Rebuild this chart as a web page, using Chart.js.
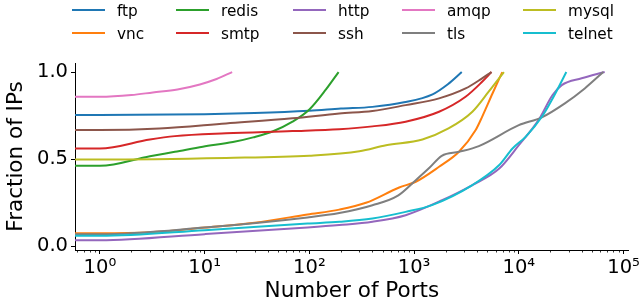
<!DOCTYPE html>
<html>
<head>
<meta charset="utf-8">
<script src="https://cdn.jsdelivr.net/npm/chart.js@4.4.1/dist/chart.umd.min.js"></script>
<style>
  html, body { margin: 0; padding: 0; background: #fff; }
  #wrap { position: relative; width: 642px; height: 306px; }
  #legend { position: absolute; left: 0; top: 0; width: 642px; height: 50px; font-family: "DejaVu Sans", sans-serif; font-size: 15.3px; color: #000; }
  .lg-line { position: absolute; width: 33px; height: 2px; }
  .lg-text { position: absolute; line-height: 20px; white-space: nowrap; }
</style>
</head>
<body>
<div id="wrap">
  <canvas id="ports-chart" width="642" height="306"></canvas>
  <div id="legend"></div>
</div>
<script>
// [number of ports, fraction of IPs]
const ftp = [[0.5, 0.753], [1, 0.753], [10, 0.758], [30, 0.765], [100, 0.778], [200, 0.79], [400, 0.80], [800, 0.826], [1500, 0.872], [2100, 0.93], [2850, 1.0]]
const vnc = [[0.5, 0.074], [1, 0.074], [3, 0.08], [10, 0.107], [30, 0.135], [96, 0.182], [193, 0.21], [347, 0.249], [720, 0.337], [1037, 0.37], [1730, 0.456], [2680, 0.542], [3870, 0.667], [4460, 0.743], [5600, 0.877], [6950, 1.0]]
const redis = [[0.5, 0.462], [1, 0.462], [3, 0.517], [5.2, 0.542], [9.6, 0.571], [18.6, 0.598], [29, 0.625], [45, 0.66], [69, 0.715], [100, 0.785], [144, 0.9], [190, 1.0]]
const smtp = [[0.5, 0.561], [1, 0.561], [3, 0.613], [5.2, 0.632], [16, 0.648], [69, 0.661], [193, 0.672], [400, 0.688], [830, 0.715], [1730, 0.772], [3100, 0.858], [4460, 0.944], [5480, 1.0]]
const http = [[0.5, 0.034], [1, 0.034], [10, 0.069], [96, 0.107], [193, 0.121], [400, 0.14], [830, 0.178], [1850, 0.264], [3600, 0.351], [6500, 0.446], [10000, 0.58], [15400, 0.724], [21000, 0.868], [25700, 0.925], [39800, 0.964], [66000, 1.0]]
const ssh = [[0.5, 0.667], [1, 0.667], [3.7, 0.676], [16, 0.705], [69, 0.734], [193, 0.762], [400, 0.776], [830, 0.81], [1730, 0.849], [3100, 0.906], [4460, 0.964], [5480, 1.0]]
const amqp = [[0.5, 0.858], [1, 0.858], [2, 0.868], [3.2, 0.883], [5.5, 0.9], [9, 0.929], [13, 0.96], [18.3, 1.0]]
const tls = [[0.5, 0.068], [1, 0.068], [10, 0.107], [96, 0.165], [193, 0.19], [400, 0.235], [700, 0.29], [1037, 0.379], [1400, 0.45], [1836, 0.519], [2690, 0.542], [4150, 0.575], [10000, 0.695], [16600, 0.74], [27500, 0.82], [42600, 0.906], [64000, 1.0]]
const mysql = [[0.5, 0.498], [1, 0.498], [16, 0.507], [100, 0.52], [300, 0.545], [540, 0.58], [1200, 0.613], [2130, 0.676], [3600, 0.772], [5150, 0.887], [7200, 1.0]]
const telnet = [[0.5, 0.06], [1, 0.06], [10, 0.092], [96, 0.13], [193, 0.14], [400, 0.159], [830, 0.197], [1480, 0.236], [3600, 0.351], [6500, 0.466], [8700, 0.561], [11600, 0.628], [16600, 0.743], [22300, 0.877], [28400, 1.0]]

const series_names = ['ftp', 'vnc', 'redis', 'smtp', 'http', 'ssh', 'amqp', 'tls', 'mysql', 'telnet']
const series_points = [ftp, vnc, redis, smtp, http, ssh, amqp, tls, mysql, telnet]
const colors = ['#1f77b4', '#ff7f0e', '#2ca02c', '#d62728', '#9467bd', '#8c564b', '#e377c2', '#7f7f7f', '#bcbd22', '#17becf']
const x_ticks = [1, 10, 100, 1000, 10000, 100000]
const y_ticks = [0, 0.5, 1.0]

const FONT = '"DejaVu Sans", sans-serif'
const sup = ['⁰', '¹', '²', '³', '⁴', '⁵']

// legend, laid out in columns like matplotlib (ncol = 5)
const legend_cols = [72, 176, 293, 402, 523]
const legend_rows = [10, 33]
const legend = document.getElementById('legend')
series_names.forEach((name, i) => {
    let col = Math.floor(i / 2), row = i % 2
    let line = document.createElement('div')
    line.className = 'lg-line'
    line.style.left = legend_cols[col] + 'px'
    line.style.top = (legend_rows[row] - 1) + 'px'
    line.style.background = colors[i]
    legend.appendChild(line)
    let txt = document.createElement('div')
    txt.className = 'lg-text'
    txt.style.left = (legend_cols[col] + 45) + 'px'
    txt.style.top = (legend_rows[row] - 9) + 'px'
    txt.textContent = name
    legend.appendChild(txt)
})

// small minor ticks on the log axis
const minorTicks = {
    id: 'minorTicks',
    afterDraw(chart) {
        const xs = chart.scales.x
        const ctx = chart.ctx
        const y0 = chart.chartArea.bottom
        ctx.save()
        ctx.strokeStyle = '#000'
        ctx.lineWidth = 0.8
        for (let k = -1; k < 6; k++) {
            for (let m = 2; m < 10; m++) {
                let v = m * Math.pow(10, k)
                if (v < xs.min || v > xs.max) continue
                let px = Math.round(xs.getPixelForValue(v)) + 0.5
                ctx.beginPath()
                ctx.moveTo(px, y0)
                ctx.lineTo(px, y0 + 2.5)
                ctx.stroke()
            }
        }
        ctx.restore()
    }
}

const datasets = series_names.map((name, i) => ({
    label: name,
    data: series_points[i].map(p => ({x: p[0], y: p[1]})),
    borderColor: colors[i],
    backgroundColor: colors[i],
    borderWidth: 2,
    pointRadius: 0,
    fill: false,
    cubicInterpolationMode: 'monotone',
    order: 10 - i,
    clip: {left: 0, right: 4, top: 4, bottom: 4},
}))

new Chart(document.getElementById('ports-chart'), {
    type: 'line',
    data: {datasets: datasets},
    options: {
        responsive: false,
        animation: false,
        events: [],
        layout: {padding: {top: 63, right: 12, left: 0, bottom: 0}},
        plugins: {
            legend: {display: false},
            tooltip: {enabled: false},
        },
        scales: {
            x: {
                type: 'logarithmic',
                min: 0.578,
                max: 112000,
                afterBuildTicks: (scale) => { scale.ticks = x_ticks.map(v => ({value: v})) },
                afterFit: (scale) => { scale.height = 56 },
                border: {display: true, color: '#000', width: 1},
                grid: {drawOnChartArea: false, drawTicks: true, tickLength: 4, tickColor: '#000'},
                ticks: {
                    autoSkip: false,
                    maxRotation: 0,
                    padding: 2,
                    color: '#000',
                    font: {family: FONT, size: 19.5},
                    callback: (v) => '10' + sup[Math.round(Math.log10(v))],
                },
                title: {
                    display: true,
                    text: 'Number of Ports',
                    color: '#000',
                    font: {family: FONT, size: 21.5},
                    padding: {top: 0, bottom: 2},
                },
            },
            y: {
                type: 'linear',
                min: -0.022,
                max: 1.052,
                afterBuildTicks: (scale) => { scale.ticks = y_ticks.map(v => ({value: v})) },
                afterFit: (scale) => { scale.width = 75 },
                border: {display: true, color: '#000', width: 1},
                grid: {drawOnChartArea: false, drawTicks: true, tickLength: 4, tickColor: '#000'},
                ticks: {
                    padding: 3,
                    color: '#000',
                    font: {family: FONT, size: 19.5},
                    callback: (v) => v.toFixed(1),
                },
                title: {
                    display: true,
                    text: 'Fraction of IPs',
                    color: '#000',
                    font: {family: FONT, size: 21.5},
                    padding: {top: 4, bottom: 0},
                },
            },
        },
    },
    plugins: [minorTicks],
})
</script>
</body>
</html>
